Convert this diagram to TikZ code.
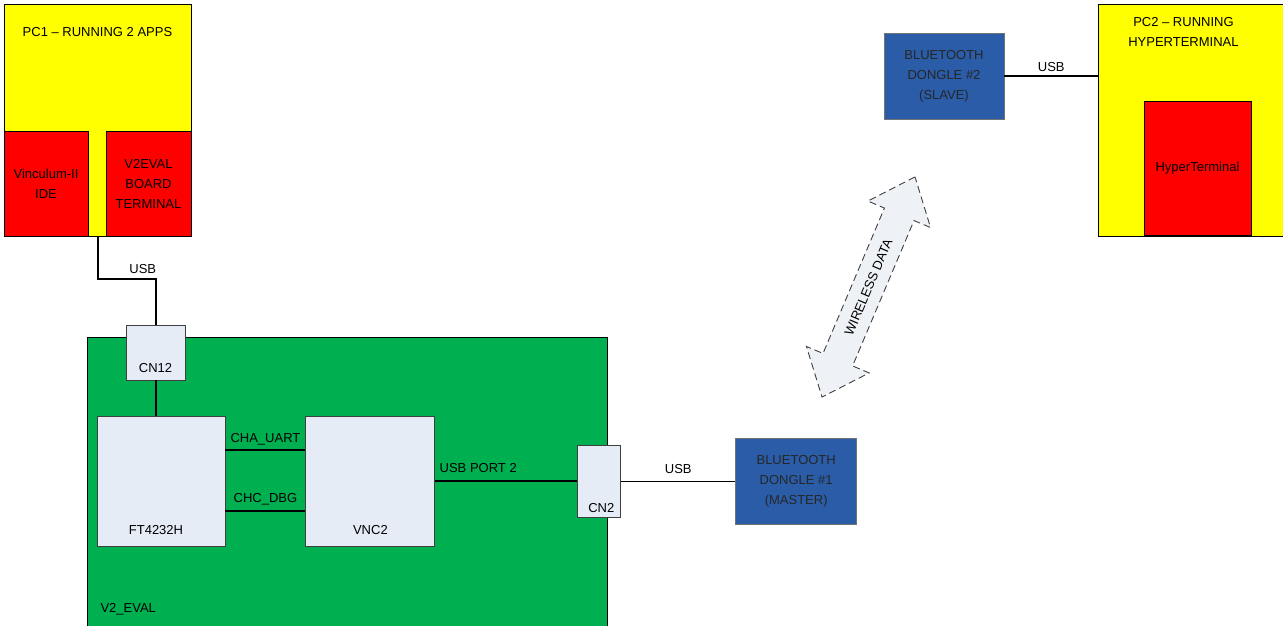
\documentclass[tikz,border=0pt]{standalone}
\usepackage{fontspec}
\setmainfont{Liberation Sans}
\usepackage{tikz}
\usetikzlibrary{positioning,shapes.arrows}

\definecolor{pcyellow}{HTML}{FFFF00}
\definecolor{appred}{HTML}{FF0000}
\definecolor{boardgreen}{HTML}{00B050}
\definecolor{chipgrey}{HTML}{E6ECF6}
\definecolor{dongleblue}{HTML}{2A5CA8}
\definecolor{radiofill}{HTML}{EEF1F6}

\begin{document}
\begin{tikzpicture}[
    x=1pt, y=-1pt,
    font=\fontsize{13}{20}\selectfont,
    box/.style={draw, rectangle, inner sep=0pt, align=center, line width=0.9pt},
    pcbox/.style={box, fill=pcyellow},
    appbox/.style={box, fill=appred},
    chipbox/.style={box, draw=black!75, fill=chipgrey},
    dongle/.style={box, draw=black!55, fill=dongleblue, text=black!85},
    wire/.style={line width=2pt},
    thinwire/.style={line width=0.9pt},
    radio/.style={double arrow, draw=black!75, line width=0.9pt,
                  dash pattern=on 7pt off 4pt, fill=radiofill,
                  inner xsep=0pt, inner ysep=11pt,
                  double arrow head extend=18pt, double arrow tip angle=80}
]
    \useasboundingbox (0,0) rectangle (1283,625);

    % left PC
    \node[pcbox, minimum width=187pt, minimum height=232pt,
          label={[below=20pt]north:PC1 – RUNNING 2 APPS}] (pc1) at (97.5,120) {};
    \node[appbox, minimum width=84pt, minimum height=105pt, anchor=south west]
          (ide) at (pc1.south west) {Vinculum-II\\IDE};
    \node[appbox, minimum width=85pt, minimum height=105pt, anchor=south east]
          (term) at (pc1.south east) {V2EVAL\\BOARD\\TERMINAL};

    % eval board
    \node[box, fill=boardgreen, minimum width=520pt, minimum height=290pt, anchor=north west,
          label={[anchor=south west, xshift=10pt, yshift=9pt]south west:V2\_EVAL}]
          (board) at (87,337) {};
    \node[chipbox, minimum width=59pt, minimum height=55pt,
          label={[above=4pt]south:CN12}] (cn12) at (155.5,352.5) {};
    \node[chipbox, minimum width=128pt, minimum height=130pt,
          label={[above=8pt, xshift=-5pt]south:FT4232H}] (ft) at (161,481) {};
    \node[chipbox, right=80pt of ft, minimum width=129pt, minimum height=130pt,
          label={[above=8pt]south:VNC2}] (vnc) {};
    \node[chipbox, right=142pt of vnc, minimum width=43pt, minimum height=72pt,
          label={[above=1pt, xshift=2pt]south:CN2}] (cn2) {};
    \node[dongle, right=114pt of cn2, minimum width=121pt, minimum height=86pt]
          (bt1) {BLUETOOTH\\DONGLE \#1\\(MASTER)};

    % right side
    \node[dongle, minimum width=120pt, minimum height=86pt]
          (bt2) at (944,76) {BLUETOOTH\\DONGLE \#2\\(SLAVE)};
    \node[pcbox, minimum width=192pt, minimum height=232pt, anchor=north west,
          label={[below=10pt, xshift=-11pt, align=center]north:PC2 – RUNNING\\HYPERTERMINAL}]
          (pc2) at (1098,4) {};
    \node[appbox, minimum width=107pt, minimum height=134pt, anchor=south]
          (hyper) at (1197.5,236) {HyperTerminal};

    \node[radio, rotate=67.1, minimum height=239pt, minimum width=68pt]
          (wireless) at (868.5,287) {WIRELESS DATA};

    % connections
    \draw[wire] (pc1.south) -- ++(0,43) -| node[pos=0.39, above=1pt]{USB} (cn12.north);
    \draw[wire] (cn12.south) -- (cn12.south |- ft.north);
    \draw[wire] ([yshift=31pt]ft.east) -- node[above=1pt]{CHA\_UART} ([yshift=31pt]vnc.west);
    \draw[wire] ([yshift=-30pt]ft.east) -- node[above=2pt]{CHC\_DBG} ([yshift=-30pt]vnc.west);
    \draw[wire] (vnc.east) -- node[pos=0, anchor=south west, yshift=4pt]{USB PORT 2} (cn2.west);
    \draw[thinwire] (cn2.east) -- node[above=4pt]{USB} (bt1.west);
    \draw[wire] (bt2.east) -- node[above]{USB} (bt2.east -| pc2.west);
\end{tikzpicture}
\end{document}
